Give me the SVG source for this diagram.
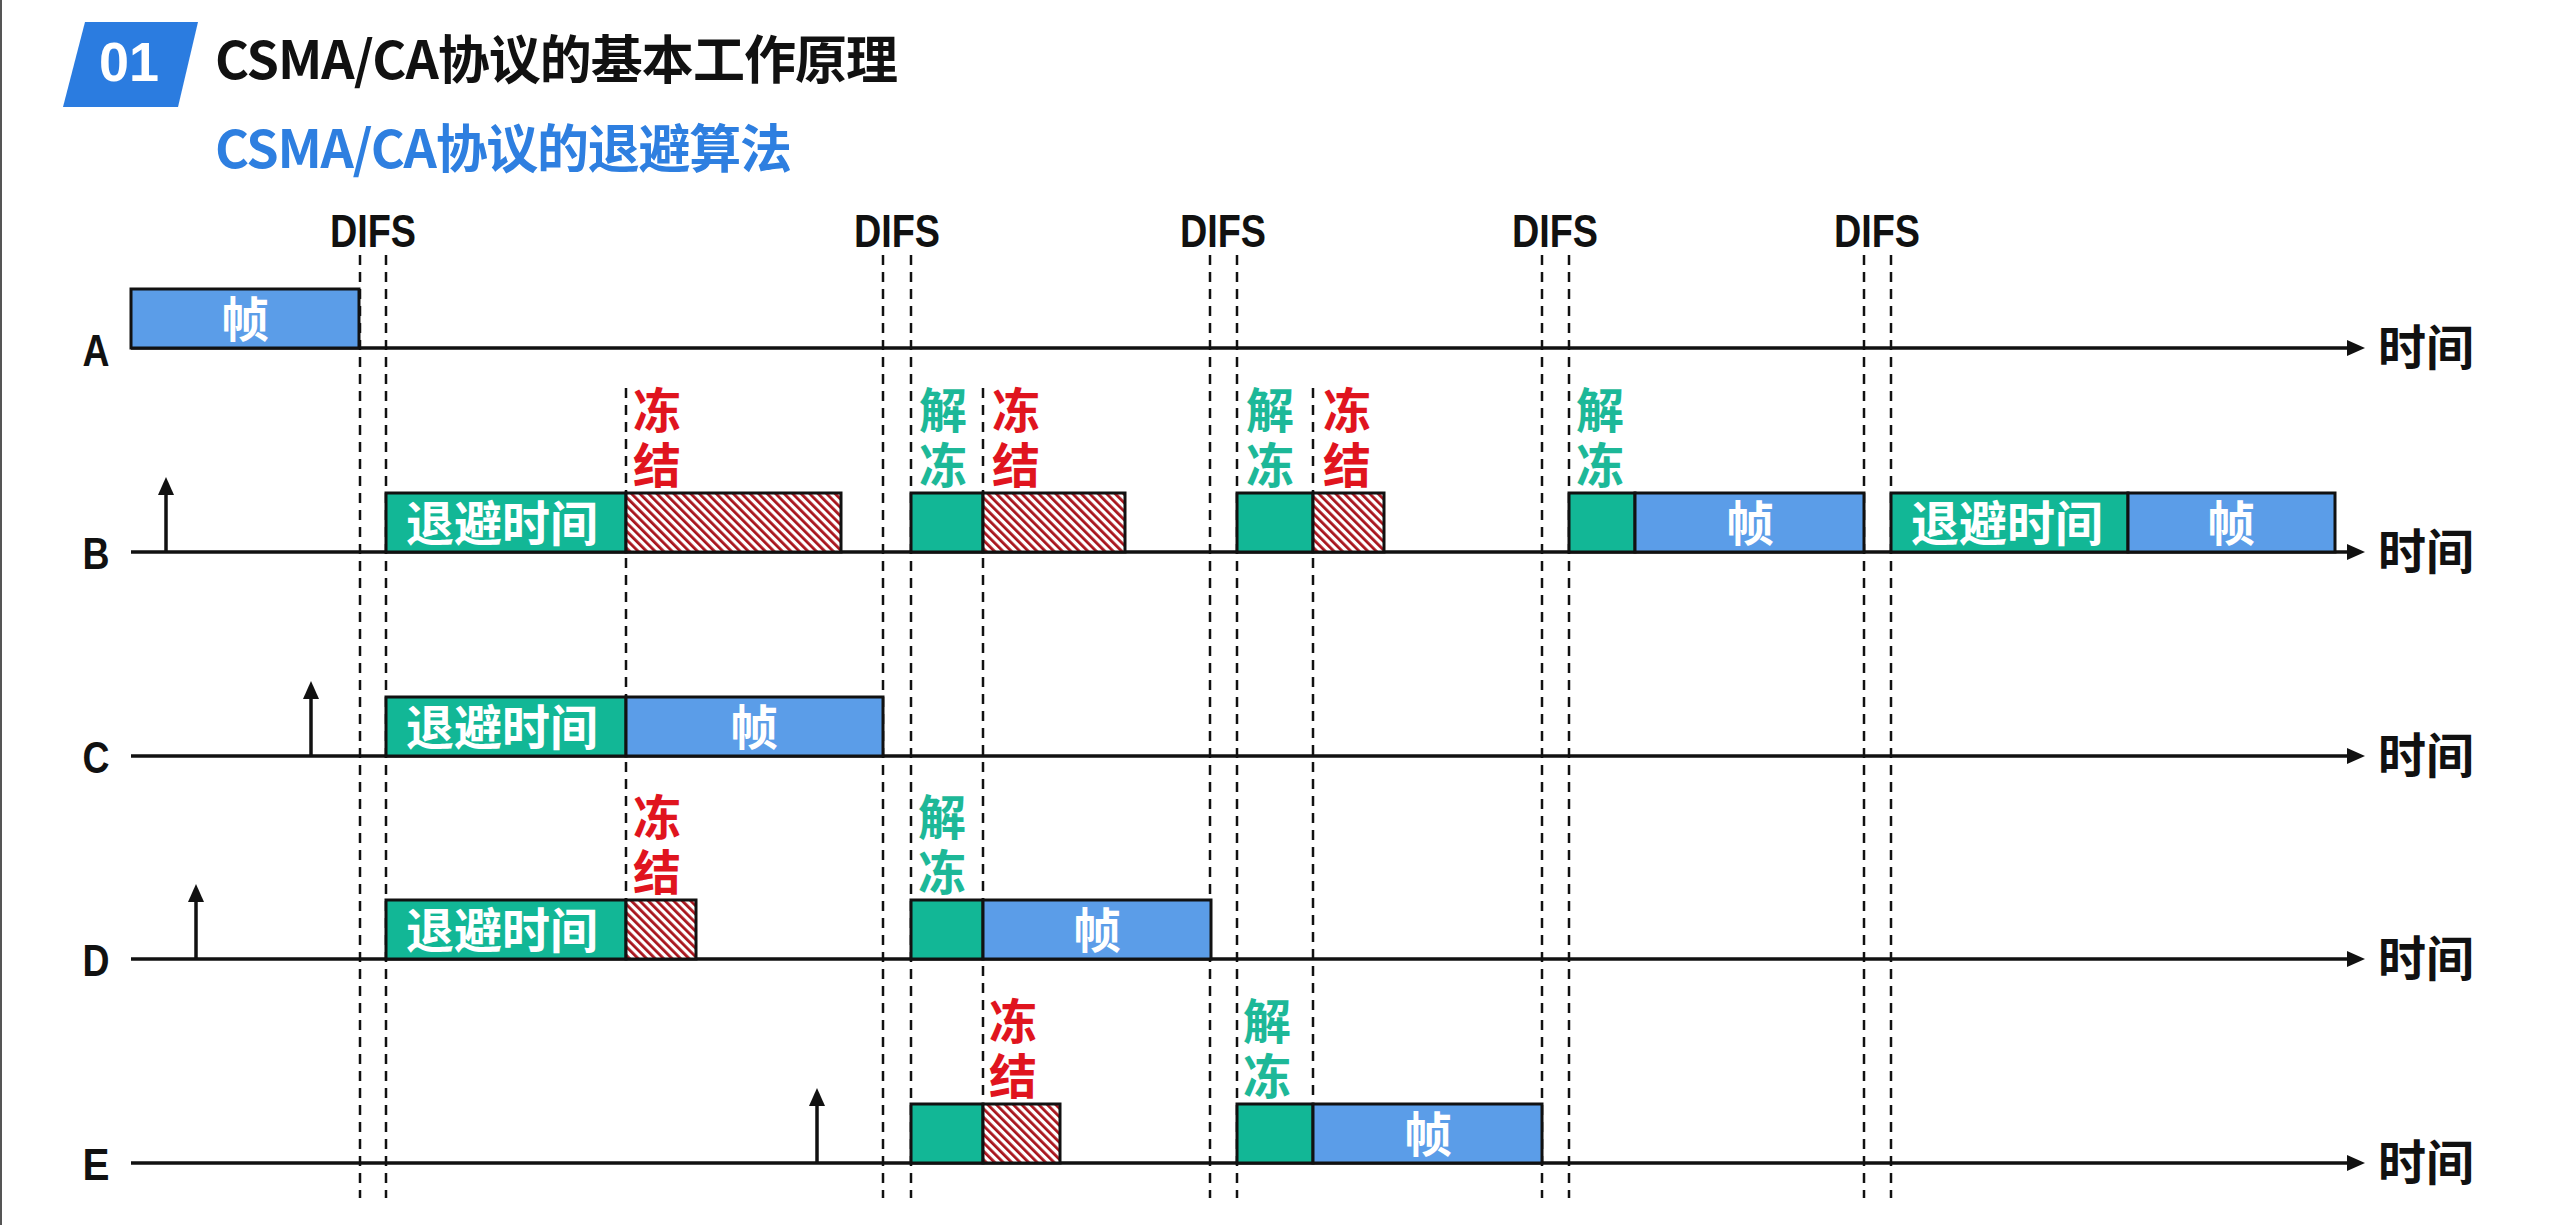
<svg xmlns="http://www.w3.org/2000/svg" width="2560" height="1225" viewBox="0 0 2560 1225">
<defs>
<pattern id="hatch" patternUnits="userSpaceOnUse" width="6" height="6" patternTransform="rotate(-45)">
<rect x="0" y="0" width="6" height="6" fill="#ffffff"/>
<rect x="0" y="0" width="2.8" height="6" fill="#a8141c"/>
</pattern>
<style>
.bx{stroke:#111;stroke-width:3}
.teal{fill:#12b796}
.blue{fill:#5b9de8}
.hat{fill:url(#hatch)}
.bt{font-family:"Noto Sans CJK SC","Noto Sans",sans-serif;font-weight:700;font-size:48px;fill:#ffffff;text-anchor:middle}
.lb{font-family:"Noto Sans CJK SC","Noto Sans",sans-serif;font-weight:700;font-size:48px;writing-mode:vertical-rl;text-anchor:start;letter-spacing:7px}
.frz{fill:#e0141e}
.unf{fill:#1db898}
.difs{font-family:"Liberation Sans",Arial,sans-serif;font-weight:700;font-size:47px;fill:#111;text-anchor:middle}
.row{font-family:"Liberation Sans",Arial,sans-serif;font-weight:700;font-size:44px;fill:#111;text-anchor:middle}
.tm{font-family:"Noto Sans CJK SC","Noto Sans",sans-serif;font-weight:700;font-size:48px;fill:#111}
.dash{stroke:#111;stroke-width:2.5;stroke-dasharray:10 7;fill:none}
.axis{stroke:#111;stroke-width:3.5;fill:none}
.head{fill:#111}
</style>
</defs>
<rect x="0" y="0" width="2560" height="1225" fill="#ffffff"/>
<rect x="0" y="0" width="2" height="1225" fill="#555"/>

<g id="header">
<polygon points="85,22 198,22 178,107 63,107" fill="#2b7ce0"/>
<text x="129" y="81" font-family="Liberation Sans,Arial,sans-serif" font-weight="700" font-size="56" fill="#ffffff" text-anchor="middle" textLength="60" lengthAdjust="spacingAndGlyphs">01</text>
<text x="215" y="79" font-family="Noto Sans CJK SC,Noto Sans,sans-serif" font-weight="700" font-size="52" fill="#111" textLength="683">CSMA/CA协议的基本工作原理</text>
<text x="215" y="168" font-family="Noto Sans CJK SC,Noto Sans,sans-serif" font-weight="700" font-size="52" fill="#2e7fe0" textLength="577">CSMA/CA协议的退避算法</text>
</g>

<g id="difs-labels">
<text class="difs" x="373" y="247" textLength="86" lengthAdjust="spacingAndGlyphs">DIFS</text>
<text class="difs" x="897" y="247" textLength="86" lengthAdjust="spacingAndGlyphs">DIFS</text>
<text class="difs" x="1223" y="247" textLength="86" lengthAdjust="spacingAndGlyphs">DIFS</text>
<text class="difs" x="1555" y="247" textLength="86" lengthAdjust="spacingAndGlyphs">DIFS</text>
<text class="difs" x="1877" y="247" textLength="86" lengthAdjust="spacingAndGlyphs">DIFS</text>
</g>

<g id="connectors">
<line class="dash" x1="360" y1="255" x2="360" y2="1198"/>
<line class="dash" x1="386" y1="255" x2="386" y2="1198"/>
<line class="dash" x1="883" y1="255" x2="883" y2="1198"/>
<line class="dash" x1="911" y1="255" x2="911" y2="1198"/>
<line class="dash" x1="1210" y1="255" x2="1210" y2="1198"/>
<line class="dash" x1="1237" y1="255" x2="1237" y2="1198"/>
<line class="dash" x1="1542" y1="255" x2="1542" y2="1198"/>
<line class="dash" x1="1569" y1="255" x2="1569" y2="1198"/>
<line class="dash" x1="1864" y1="255" x2="1864" y2="1198"/>
<line class="dash" x1="1891" y1="255" x2="1891" y2="1198"/>
<line class="dash" x1="626" y1="388" x2="626" y2="899"/>
<line class="dash" x1="983" y1="388" x2="983" y2="1102"/>
<line class="dash" x1="1313" y1="388" x2="1313" y2="1102"/>
<line class="axis" x1="131" y1="348" x2="2352" y2="348"/>
<polygon class="head" points="2347,340 2365,348 2347,356"/>
<line class="axis" x1="131" y1="552" x2="2352" y2="552"/>
<polygon class="head" points="2347,544 2365,552 2347,560"/>
<line class="axis" x1="131" y1="756" x2="2352" y2="756"/>
<polygon class="head" points="2347,748 2365,756 2347,764"/>
<line class="axis" x1="131" y1="959" x2="2352" y2="959"/>
<polygon class="head" points="2347,951 2365,959 2347,967"/>
<line class="axis" x1="131" y1="1163" x2="2352" y2="1163"/>
<polygon class="head" points="2347,1155 2365,1163 2347,1171"/>
<line class="axis" x1="166" y1="552" x2="166" y2="490"/>
<polygon class="head" points="158,495 166,477 174,495"/>
<line class="axis" x1="311" y1="756" x2="311" y2="694"/>
<polygon class="head" points="303,699 311,681 319,699"/>
<line class="axis" x1="196" y1="959" x2="196" y2="897"/>
<polygon class="head" points="188,902 196,884 204,902"/>
<line class="axis" x1="817" y1="1163" x2="817" y2="1101"/>
<polygon class="head" points="809,1106 817,1088 825,1106"/>
</g>

<g id="row-labels">
<text class="row" x="96" y="366" textLength="27" lengthAdjust="spacingAndGlyphs">A</text>
<text class="row" x="96" y="569" textLength="27" lengthAdjust="spacingAndGlyphs">B</text>
<text class="row" x="96" y="773" textLength="27" lengthAdjust="spacingAndGlyphs">C</text>
<text class="row" x="96" y="976" textLength="27" lengthAdjust="spacingAndGlyphs">D</text>
<text class="row" x="96" y="1180" textLength="27" lengthAdjust="spacingAndGlyphs">E</text>
<text class="tm" x="2378" y="365">时间</text>
<text class="tm" x="2378" y="569">时间</text>
<text class="tm" x="2378" y="773">时间</text>
<text class="tm" x="2378" y="976">时间</text>
<text class="tm" x="2378" y="1180">时间</text>
</g>

<g id="A-frame"><rect class="bx blue" x="131" y="289" width="228" height="59"/><text class="bt" x="245" y="337">帧</text></g>

<g id="B-backoff1"><rect class="bx teal" x="386" y="493" width="240" height="59"/><text class="bt" x="502" y="541">退避时间</text></g>
<g id="B-freeze1"><rect class="bx hat" x="626" y="493" width="215" height="59"/></g>
<g id="B-resume1"><rect class="bx teal" x="911" y="493" width="72" height="59"/></g>
<g id="B-freeze2"><rect class="bx hat" x="983" y="493" width="142" height="59"/></g>
<g id="B-resume2"><rect class="bx teal" x="1237" y="493" width="76" height="59"/></g>
<g id="B-freeze3"><rect class="bx hat" x="1313" y="493" width="71" height="59"/></g>
<g id="B-resume3"><rect class="bx teal" x="1569" y="493" width="66" height="59"/></g>
<g id="B-frame1"><rect class="bx blue" x="1635" y="493" width="229" height="59"/><text class="bt" x="1750" y="541">帧</text></g>
<g id="B-backoff2"><rect class="bx teal" x="1891" y="493" width="237" height="59"/><text class="bt" x="2007" y="541">退避时间</text></g>
<g id="B-frame2"><rect class="bx blue" x="2128" y="493" width="207" height="59"/><text class="bt" x="2231" y="541">帧</text></g>
<g id="B-labels">
<text class="lb frz" x="657" y="386">冻结</text>
<text class="lb unf" x="943" y="386">解冻</text>
<text class="lb frz" x="1016" y="386">冻结</text>
<text class="lb unf" x="1270" y="386">解冻</text>
<text class="lb frz" x="1347" y="386">冻结</text>
<text class="lb unf" x="1600" y="386">解冻</text>
</g>

<g id="C-backoff"><rect class="bx teal" x="386" y="697" width="240" height="59"/><text class="bt" x="502" y="745">退避时间</text></g>
<g id="C-frame"><rect class="bx blue" x="626" y="697" width="257" height="59"/><text class="bt" x="754" y="745">帧</text></g>

<g id="D-backoff"><rect class="bx teal" x="386" y="900" width="240" height="59"/><text class="bt" x="502" y="948">退避时间</text></g>
<g id="D-freeze"><rect class="bx hat" x="626" y="900" width="70" height="59"/></g>
<g id="D-resume"><rect class="bx teal" x="911" y="900" width="72" height="59"/></g>
<g id="D-frame"><rect class="bx blue" x="983" y="900" width="228" height="59"/><text class="bt" x="1097" y="948">帧</text></g>
<g id="D-labels">
<text class="lb frz" x="657" y="793">冻结</text>
<text class="lb unf" x="942" y="793">解冻</text>
</g>

<g id="E-resume1"><rect class="bx teal" x="911" y="1104" width="72" height="59"/></g>
<g id="E-freeze"><rect class="bx hat" x="983" y="1104" width="77" height="59"/></g>
<g id="E-resume2"><rect class="bx teal" x="1237" y="1104" width="76" height="59"/></g>
<g id="E-frame"><rect class="bx blue" x="1313" y="1104" width="229" height="59"/><text class="bt" x="1428" y="1152">帧</text></g>
<g id="E-labels">
<text class="lb frz" x="1013" y="997">冻结</text>
<text class="lb unf" x="1267" y="997">解冻</text>
</g>
</svg>
